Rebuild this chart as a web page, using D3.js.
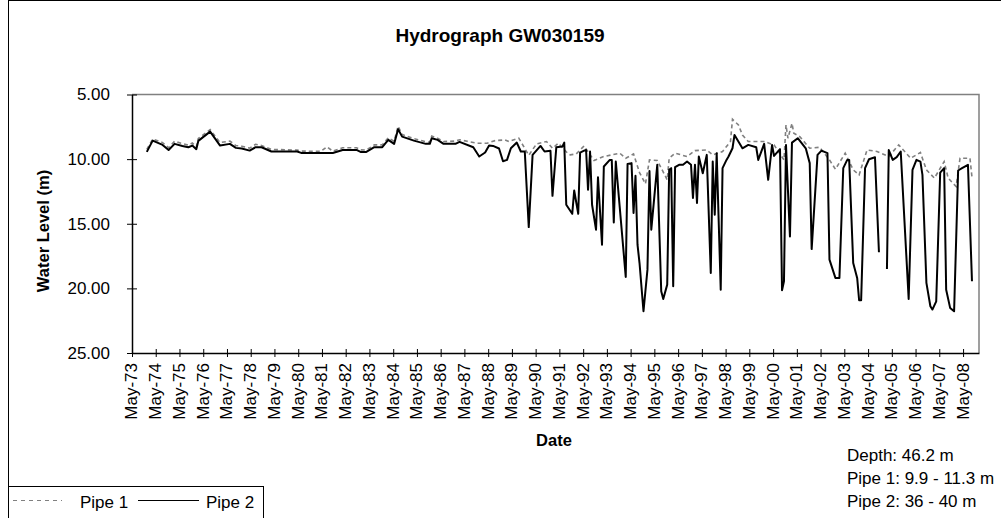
<!DOCTYPE html>
<html>
<head>
<meta charset="utf-8">
<script src="https://cdn.jsdelivr.net/npm/d3@7"></script>
<style>
  body { margin: 0; background: #fff; }
  svg { display: block; font-family: Arial, "Liberation Sans", sans-serif; }
</style>
</head>
<body>
<svg width="1001" height="518"></svg>
<script>
const chartTitle = "Hydrograph GW030159";
const seriesNames = ["Pipe 1", "Pipe 2"];
const wellNotes = ["Depth: 46.2 m", "Pipe 1: 9.9 - 11.3 m", "Pipe 2: 36 - 40 m"];
const yTickValues = [5, 10, 15, 20, 25];

// Pipe 1 (shallow)
const pipe1Dates = ["1973-12","1974-03","1974-08","1974-11","1975-02","1975-06","1975-09","1975-11","1976-01","1976-02",
  "1976-08","1977-01","1977-06","1977-09","1977-12","1978-04","1978-07","1978-10","1979-03","1980-04",
  "1980-06","1981-04","1981-07","1981-10","1982-03","1982-10","1982-12","1983-03","1983-07","1983-11",
  "1984-02","1984-05","1984-07","1984-09","1985-03","1985-09","1985-11","1985-12","1986-03","1986-06",
  "1986-12","1987-02","1987-06","1987-11","1988-04","1988-08","1989-01","1989-03","1989-08","1990-01",
  "1990-05","1990-10","1991-01","1991-04","1991-09","1991-10","1992-01","1992-05","1992-10","1993-03",
  "1993-11","1994-02","1994-06","1994-09","1994-12","1995-02","1995-06","1995-11","1995-12","1996-03",
  "1996-09","1997-01","1997-07","1997-10","1998-03","1998-07","1998-08","1998-11","1999-01","1999-04",
  "1999-12","2000-05","2000-10","2000-11","2000-12","2001-02","2001-03","2001-06","2001-11","2002-04",
  "2002-09","2002-12","2003-05","2003-09","2003-12","2004-04","2004-09","2005-03","2005-08","2005-11",
  "2006-02","2006-07","2006-10","2007-02","2007-07","2007-09","2008-01","2008-03","2008-08","2008-09"];
const pipe1Levels = [9.25,8.45,8.72,9.12,8.62,8.8,8.92,8.75,9.05,8.4,
  7.72,8.72,8.6,8.95,9.0,9.15,8.85,8.95,9.25,9.3,
  9.38,9.4,9.05,9.38,9.12,9.12,9.28,9.3,8.9,8.9,
  8.35,8.62,7.45,8.1,8.42,8.65,8.7,8.22,8.38,8.64,
  8.6,8.5,8.62,8.77,8.77,8.57,8.51,8.64,8.38,9.7,
  8.82,8.64,9.16,8.77,9.6,9.67,9.6,8.98,10.1,9.8,
  9.54,9.93,9.6,11.04,11.91,10.06,10.1,11.6,9.93,9.54,
  9.8,9.34,9.29,9.67,9.41,8.64,6.92,7.36,8.13,8.64,
  8.64,8.9,10.06,7.36,8.38,7.23,8.0,8.26,9.16,9.08,
  10.06,10.78,9.54,10.83,11.22,9.29,9.41,9.8,8.9,9.41,
  9.93,9.49,10.83,11.47,10.19,11.47,12.12,9.93,9.93,11.4];

// Pipe 2 (deep) - solid black line, null = missing reading
const pipe2Dates = ["1973-12","1974-03","1974-08","1974-11","1975-02","1975-06","1975-09","1975-11","1976-01","1976-02",
  "1976-08","1977-01","1977-06","1977-09","1977-12","1978-04","1978-07","1978-10","1979-03","1980-04",
  "1980-06","1981-10","1982-03","1982-10","1982-12","1983-03","1983-07","1983-11","1984-02","1984-05",
  "1984-07","1984-09","1985-03","1985-09","1985-11","1985-12","1986-03","1986-06","1986-12","1987-02",
  "1987-09","1987-12","1988-03","1988-05","1988-07","1988-10","1988-12","1989-02","1989-04","1989-07",
  "1989-09","1989-11","1990-01","1990-03","1990-07","1990-09","1990-12","1991-01","1991-03","1991-06",
  "1991-07","1991-08","1991-11","1991-12","1992-02","1992-03","1992-05","1992-06","1992-07","1992-08",
  "1992-09","1992-11","1992-12","1993-02","1993-03","1993-06","1993-07","1993-08","1993-09","1994-02",
  "1994-03","1994-05","1994-06","1994-07","1994-08","1994-09","1994-11","1995-01","1995-02","1995-03",
  "1995-06","1995-08","1995-09","1995-11","1995-12","1996-01","1996-02","1996-03","1996-05","1996-07",
  "1996-09","1996-11","1996-12","1997-01","1997-02","1997-03","1997-05","1997-07","1997-09","1997-10",
  "1997-11","1997-12","1998-02","1998-03","1998-05","1998-06","1998-08","1998-09","1999-01","1999-04",
  "1999-08","1999-09","1999-12","2000-02","2000-04","2000-05","2000-08","2000-09","2000-10","2000-11",
  "2001-01","2001-02","2001-05","2001-09","2001-11","2001-12","2002-03","2002-05","2002-08","2002-09",
  "2002-12","2003-02","2003-04","2003-06","2003-07","2003-09","2003-11","2003-12","2004-01","2004-03",
  "2004-05","2004-08","2004-10","2004-12","2005-02","2005-03","2005-05","2005-07","2005-09","2006-01",
  "2006-03","2006-05","2006-07","2006-08","2006-10","2006-12","2007-01","2007-03","2007-05","2007-07",
  "2007-08","2007-10","2007-12","2008-02","2008-04","2008-07","2008-09"];
const pipe2Levels = [9.44,8.57,8.9,9.29,8.82,8.98,9.08,8.95,9.23,8.59,
  7.87,8.95,8.82,9.13,9.18,9.34,9.08,9.08,9.41,9.41,
  9.52,9.52,9.29,9.29,9.44,9.44,9.08,9.08,8.51,8.82,
  7.69,8.26,8.57,8.82,8.82,8.38,8.51,8.82,8.82,8.67,
  9.08,9.8,9.49,8.95,8.98,9.18,10.16,10.06,9.16,8.72,
  9.41,9.41,15.26,9.67,8.98,9.41,9.36,12.84,9.08,9.03,
  8.72,13.53,14.23,12.43,14.23,9.49,9.34,9.29,12.37,9.41,
  13.53,15.46,11.4,16.62,10.57,10.06,10.06,14.9,10.19,19.11,
  10.37,10.31,14.17,11.29,16.62,18.04,21.77,18.55,10.92,15.46,
  10.44,20.23,20.82,19.71,10.83,10.7,19.84,10.62,10.44,10.44,
  10.19,10.44,13.01,10.44,13.4,9.8,11.09,9.67,18.81,10.19,
  14.3,9.54,20.1,10.7,10.06,9.8,9.16,8.13,9.16,8.9,
  9.08,10.06,8.82,11.6,8.9,9.75,9.23,20.15,19.45,8.9,
  15.98,8.72,8.38,9.16,10.31,16.96,9.67,9.34,9.54,17.78,
  19.19,19.19,10.7,10.06,10.06,18.04,19.19,20.92,20.92,10.7,
  10.01,9.85,17.21,null,18.5,9.3,10.06,9.85,9.41,20.82,
  10.83,10.06,10.19,11.22,19.58,21.38,21.64,21.0,11.04,10.7,
  20.1,21.51,21.77,10.88,10.7,10.44,19.45];

const parseMonth = d3.timeParse("%Y-%m");
const toPoints = (dates, levels) => dates.map((d, i) => ({
  date: d3.timeDay.offset(parseMonth(d), 14),
  level: levels[i]
}));
const pipe1 = toPoints(pipe1Dates, pipe1Levels);
const pipe2 = toPoints(pipe2Dates, pipe2Levels);

const plot = { left: 132, right: 979, top: 94.5, bottom: 353 };
const font = "Arial, 'Liberation Sans', sans-serif";

const svg = d3.select("svg");

// chart frame
svg.append("rect")
  .attr("x", 8.5).attr("y", 0.5)
  .attr("width", 1100).attr("height", 600)
  .attr("fill", "#fff").attr("stroke", "#000");

const x = d3.scaleTime()
  .domain([new Date(1973, 4, 1), new Date(2009, 0, 1)])
  .range([plot.left, plot.right]);

const y = d3.scaleLinear()
  .domain([5, 25])
  .range([plot.top, plot.bottom]);

// grey plot border on top and right
svg.append("path")
  .attr("d", `M${plot.left},${plot.top}H${plot.right}V${plot.bottom}`)
  .attr("fill", "none").attr("stroke", "#808080").attr("stroke-width", 1.5);

svg.append("text")
  .attr("x", 500).attr("y", 42)
  .attr("text-anchor", "middle")
  .attr("font-weight", "bold").attr("font-size", 19)
  .text(chartTitle);

// year ticks in May
const xTicks = d3.timeYear.range(new Date(1973, 0, 1), new Date(2009, 0, 1))
  .map(d => d3.timeMonth.offset(d, 4));

const xAxis = svg.append("g")
  .attr("transform", `translate(0,${plot.bottom})`)
  .call(d3.axisBottom(x).tickValues(xTicks).tickFormat(d3.timeFormat("%b-%y")).tickSizeOuter(0));
xAxis.select(".domain").attr("stroke", "#000").attr("stroke-width", 1.5);
xAxis.selectAll(".tick line").attr("y1", -4).attr("y2", 4);
xAxis.selectAll(".tick text")
  .attr("transform", "rotate(-90)")
  .attr("text-anchor", "end")
  .attr("x", -10).attr("y", -1).attr("dy", "0.35em")
  .attr("font-size", 17).attr("fill", "#000")
  .style("font-family", font);

const yAxis = svg.append("g")
  .attr("transform", `translate(${plot.left},0)`)
  .call(d3.axisLeft(y).tickValues(yTickValues).tickFormat(d3.format(".2f")).tickSizeOuter(0));
yAxis.select(".domain").attr("stroke", "#000").attr("stroke-width", 1.5);
yAxis.selectAll(".tick line").attr("x1", -5).attr("x2", 5);
yAxis.selectAll(".tick text")
  .attr("x", -22)
  .attr("font-size", 17).attr("fill", "#000")
  .style("font-family", font);

svg.append("text")
  .attr("transform", "translate(49,231) rotate(-90)")
  .attr("text-anchor", "middle")
  .attr("font-weight", "bold").attr("font-size", 16.5)
  .text("Water Level (m)");

svg.append("text")
  .attr("x", 554).attr("y", 446)
  .attr("text-anchor", "middle")
  .attr("font-weight", "bold").attr("font-size", 16.5)
  .text("Date");

const line = d3.line()
  .defined(d => d.level != null)
  .x(d => x(d.date))
  .y(d => y(d.level));

svg.append("path")
  .datum(pipe1)
  .attr("d", line)
  .attr("fill", "none")
  .attr("stroke", "#808080")
  .attr("stroke-width", 1.6)
  .attr("stroke-dasharray", "4,3");

svg.append("path")
  .datum(pipe2)
  .attr("d", line)
  .attr("fill", "none")
  .attr("stroke", "#000")
  .attr("stroke-width", 2)
  .attr("stroke-linejoin", "round");

// well construction notes
svg.append("g").selectAll("text")
  .data(wellNotes)
  .join("text")
  .attr("x", 847)
  .attr("y", (d, i) => 461 + i * 23)
  .attr("font-size", 17)
  .text(d => d);

// legend
const legend = svg.append("g");
legend.append("rect")
  .attr("x", 8.5).attr("y", 486.5)
  .attr("width", 255).attr("height", 40)
  .attr("fill", "#fff").attr("stroke", "#000");
legend.append("line")
  .attr("x1", 13).attr("x2", 62).attr("y1", 500.5).attr("y2", 500.5)
  .attr("stroke", "#808080").attr("stroke-width", 1.2).attr("stroke-dasharray", "4,4");
legend.append("text").attr("x", 80).attr("y", 508).attr("font-size", 17).text(seriesNames[0]);
legend.append("line")
  .attr("x1", 138).attr("x2", 199).attr("y1", 500.5).attr("y2", 500.5)
  .attr("stroke", "#000").attr("stroke-width", 1.2);
legend.append("text").attr("x", 206).attr("y", 508).attr("font-size", 17).text(seriesNames[1]);
</script>
</body>
</html>
